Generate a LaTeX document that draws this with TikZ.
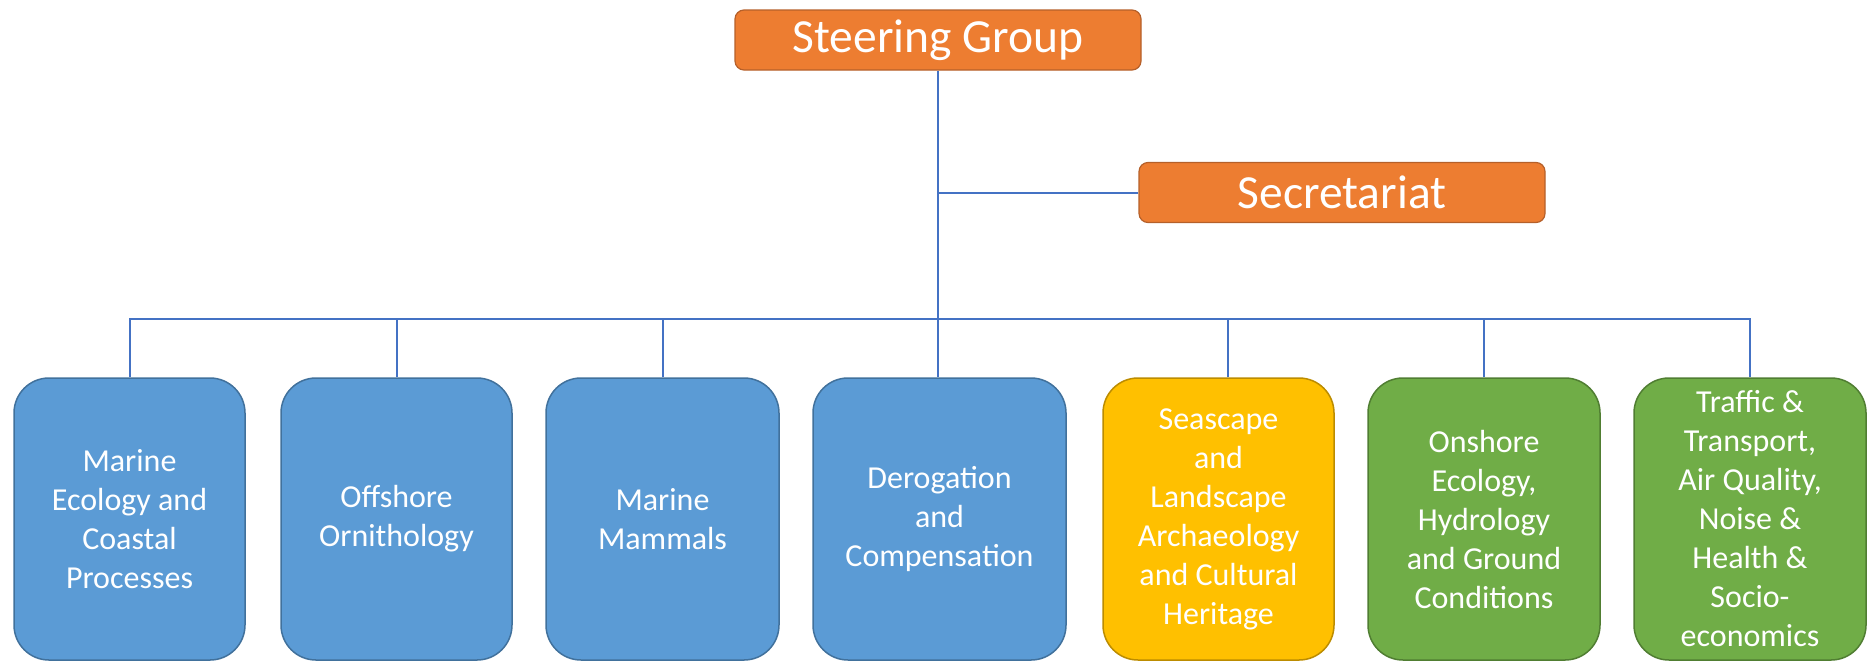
\documentclass[tikz,border=0pt]{standalone}
\usepackage{fontspec}
\setmainfont{Carlito}
\usetikzlibrary{positioning}

\definecolor{orgfill}{HTML}{ED7D31}
\definecolor{orgdraw}{HTML}{B5602A}
\definecolor{bluefill}{HTML}{5B9BD5}
\definecolor{bluedraw}{HTML}{41719C}
\definecolor{goldfill}{HTML}{FFC000}
\definecolor{golddraw}{HTML}{BC8C00}
\definecolor{grnfill}{HTML}{70AD47}
\definecolor{grndraw}{HTML}{507E32}
\definecolor{linkblue}{HTML}{4472C4}

\begin{document}
\begin{tikzpicture}[
  x=1pt, y=-1pt,
  head/.style={draw=orgdraw, fill=orgfill, line width=1.2pt, rectangle,
               rounded corners=9pt, minimum width=406pt, minimum height=60pt,
               inner sep=0pt, text=white, font=\fontsize{47.5}{57}\selectfont},
  wg/.style={rectangle, rounded corners=35pt, line width=1.5pt,
             minimum width=231pt, minimum height=282pt, inner sep=0pt,
             text=white, align=center, font=\fontsize{32}{39}\selectfont},
  wgblue/.style={wg, draw=bluedraw, fill=bluefill},
  wggold/.style={wg, draw=golddraw, fill=goldfill},
  wggrn/.style={wg, draw=grndraw, fill=grnfill},
  link/.style={draw=linkblue, line width=2pt}
]
\useasboundingbox (0,0) rectangle (1868,662);
\node[head] (steer) at (938, 40) {Steering Group};
\node[head] (secr) at (1342, 192.5) {Secretariat};
% working groups
\node[wgblue] (marine) at (129.5, 519) {Marine\\Ecology and\\Coastal\\Processes};
\node[wgblue] (ornith) at (396.5, 519) {Offshore\\Ornithology};
\node[wgblue, minimum width=233pt] (mammals) at (662.5, 519) {Marine\\Mammals};
\node[wgblue, minimum width=253pt] (derog) at (939.5, 519) {Derogation\\and\\Compensation};
\node[wggold] (seascape) at (1218.5, 519) {Seascape\\and\\Landscape\\Archaeology\\and Cultural\\Heritage};
\node[wggrn, minimum width=232pt] (onshore) at (1484, 519) {Onshore\\Ecology,\\Hydrology\\and Ground\\Conditions};
\node[wggrn, minimum width=232pt] (traffic) at (1750, 519) {Traffic \&\\Transport,\\Air Quality,\\Noise \&\\Health \&\\Socio-\\economics};
\coordinate (bus) at (0, 319);
% trunk and secretariat branch
\draw[link] (steer.south) -- (steer.south |- derog.north);
\draw[link] (steer.south |- secr.west) -- (secr.west);
% bus to the groups
\draw[link] (marine.north) -- (marine.north |- bus) -- (traffic.north |- bus) -- (traffic.north);
\foreach \g in {ornith, mammals, onshore}
  \draw[link] (\g.north) -- (\g.north |- bus);
\draw[link] ([xshift=9pt]seascape.north) -- ([xshift=9pt]seascape.north |- bus);
\end{tikzpicture}
\end{document}
